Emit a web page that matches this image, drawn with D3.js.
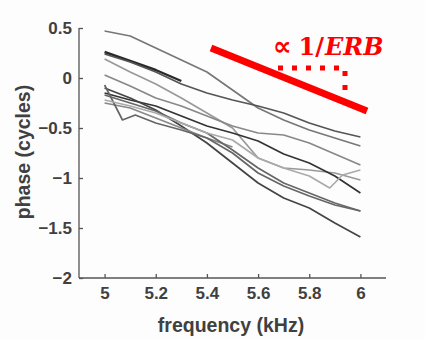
<!DOCTYPE html>
<html lang="en">
<head>
<meta charset="utf-8">
<title>phase vs frequency</title>
<script src="https://d3js.org/d3.v7.min.js"></script>
<style>
  body { margin: 0; background: #fdfdfd; }
</style>
</head>
<body>
<div id="chart"></div>
<script type="text/javascript">

// frequencies (kHz) shared by most traces
var freqs = [5.0, 5.1, 5.2, 5.3, 5.4, 5.5, 5.6, 5.7, 5.8, 5.9, 6.0];

// phase (cycles) per trace, null where the trace has no point
var phaseA = [0.47, 0.42, 0.30, 0.18, 0.06, -0.12, -0.30, -0.42, -0.52, -0.60, -0.68];
var phaseB = [0.26, 0.17, 0.08, -0.03, null, null, null, null, null, null, null];
var phaseC = [0.24, 0.16, 0.06, -0.06, -0.15, -0.22, -0.28, -0.35, -0.45, -0.53, -0.59];
var phaseD = [0.19, 0.06, -0.06, -0.20, -0.35, -0.50, -0.80, -0.90, -0.92, -0.95, -1.02];
var phaseE = [0.03, -0.08, -0.20, -0.28, -0.38, -0.48, -0.55, -0.57, -0.65, -0.76, -0.87];
var phaseF = [-0.15, -0.22, -0.28, -0.38, -0.48, -0.55, -0.63, -0.76, -0.85, -0.98, -1.15];
var phaseG = [-0.10, -0.20, -0.32, -0.48, -0.65, -0.85, -1.05, -1.20, -1.30, -1.45, -1.59];
var phaseH = [-0.25, -0.30, -0.40, -0.50, -0.60, -0.69, null, null, null, null, null];
var phaseI = [-0.17, -0.25, -0.33, -0.45, -0.55, -0.72, -0.90, -1.05, -1.15, -1.25, -1.33];

// traces with their own frequency points (kinks)
var freqsJ = [5.0, 5.07, 5.12, 5.2, 5.3, 5.4, 5.5, 5.6, 5.7, 5.8, 5.9, 6.0];
var phaseJ = [-0.07, -0.42, -0.37, -0.45, -0.52, -0.60, -0.75, -0.95, -1.08, -1.18, -1.27, -1.33];
var freqsK = [5.0, 5.1, 5.2, 5.3, 5.4, 5.5, 5.6, 5.7, 5.8, 5.88, 5.93, 6.0];
var phaseK = [-0.22, -0.28, -0.35, -0.45, -0.55, -0.62, -0.80, -0.90, -0.98, -1.10, -0.97, -0.92];

var traceColors = ["#777", "#2a2a2a", "#555", "#999", "#888", "#333", "#444", "#888", "#666", "#666", "#aaa"];

var xTicks = [5, 5.2, 5.4, 5.6, 5.8, 6];
var yTicks = [-2, -1.5, -1, -0.5, 0, 0.5];

var traces = [
  [freqs, phaseA], [freqs, phaseB], [freqs, phaseC], [freqs, phaseD],
  [freqs, phaseE], [freqs, phaseF], [freqs, phaseG], [freqs, phaseH],
  [freqs, phaseI], [freqsJ, phaseJ], [freqsK, phaseK]
];

var w = 425, h = 340;
var svg = d3.select("#chart").append("svg")
  .attr("width", w)
  .attr("height", h);

var x = d3.scaleLinear().domain([4.9, 6.1]).range([79, 386]);
var y = d3.scaleLinear().domain([-2, 0.5]).range([278, 28]);

var line = d3.line()
  .defined(function(d) { return d[1] != null; })
  .x(function(d) { return x(d[0]); })
  .y(function(d) { return y(d[1]); });

svg.selectAll(".trace")
  .data(traces)
  .enter().append("path")
    .attr("class", "trace")
    .attr("d", function(t) { return line(t[0].map(function(f, i) { return [f, t[1][i]]; })); })
    .attr("fill", "none")
    .attr("stroke", function(t, i) { return traceColors[i]; })
    .attr("stroke-width", function(t, i) { return i == 1 ? 2.4 : 1.7; })
    .attr("stroke-linejoin", "round");

// axes, ticks inside like matlab
var xAxis = d3.axisBottom(x).tickValues(xTicks).tickSize(-4).tickPadding(9)
  .tickFormat(d3.format("~g"));
var yAxis = d3.axisLeft(y).tickValues(yTicks).tickSize(-4).tickPadding(7)
  .tickFormat(d3.format("~g"));

var gx = svg.append("g").attr("transform", "translate(0,278)").call(xAxis);
var gy = svg.append("g").attr("transform", "translate(79,0)").call(yAxis);

[gx, gy].forEach(function(g) {
  g.select(".domain").attr("stroke", "#555").attr("stroke-width", 1.3);
  g.selectAll(".tick line").attr("stroke", "#555").attr("stroke-width", 1.3);
  g.selectAll(".tick text")
    .attr("fill", "#404040")
    .attr("font-family", "Arial, 'Liberation Sans', sans-serif")
    .attr("font-weight", "bold")
    .attr("font-size", 17);
});
gx.select(".domain").attr("d", "M79,0H386");
gy.select(".domain").attr("d", "M0,278V28");

svg.append("text").text("frequency (kHz)")
  .attr("x", 231).attr("y", 332)
  .attr("text-anchor", "middle")
  .attr("fill", "#404040")
  .attr("font-family", "Arial, 'Liberation Sans', sans-serif")
  .attr("font-weight", "bold")
  .attr("font-size", 19.5);

svg.append("text").text("phase (cycles)")
  .attr("transform", "translate(30,152) rotate(-90)")
  .attr("text-anchor", "middle")
  .attr("fill", "#404040")
  .attr("font-family", "Arial, 'Liberation Sans', sans-serif")
  .attr("font-weight", "bold")
  .attr("font-size", 19.5);

// 1/ERB slope guide
svg.append("line")
  .attr("x1", 211).attr("y1", 48)
  .attr("x2", 367).attr("y2", 111)
  .attr("stroke", "#ff0000")
  .attr("stroke-width", 7);

svg.append("path")
  .attr("d", "M278,68H345V93")
  .attr("fill", "none")
  .attr("stroke", "#ff0000")
  .attr("stroke-width", 5)
  .attr("stroke-dasharray", "5,9");

var lab = svg.append("text")
  .attr("x", 273).attr("y", 55)
  .attr("fill", "#ff0000")
  .attr("font-family", "'DejaVu Serif', serif")
  .attr("font-weight", "bold")
  .attr("font-size", 24);
lab.append("tspan").attr("font-family", "'DejaVu Sans', sans-serif").attr("font-size", 26).text("\u221d");
lab.append("tspan").attr("dx", 7).text("1/");
lab.append("tspan").attr("font-style", "italic").attr("dx", 1).text("ERB");

</script>
</body>
</html>
